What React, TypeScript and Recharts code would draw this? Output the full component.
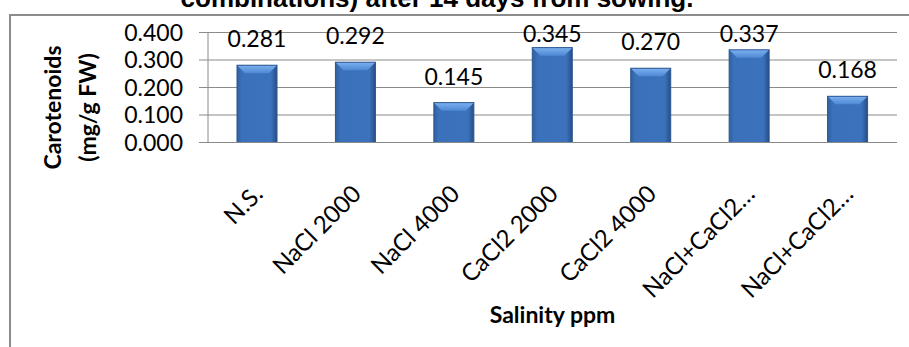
import { BarChart, Bar, XAxis, YAxis, CartesianGrid, LabelList, Label } from "recharts";

const categories = [
  "N.S.",
  "NaCl 2000",
  "NaCl 4000",
  "CaCl2 2000",
  "CaCl2 4000",
  "NaCl+CaCl2…",
  "NaCl+CaCl2…",
];
const carotenoids = [0.281, 0.292, 0.145, 0.345, 0.27, 0.337, 0.168];
const yTicks = [0, 0.1, 0.2, 0.3, 0.4];
const edgeTicks = [0, 1, 2, 3, 4, 5, 6, 7];

const title = "combinations) after 14 days from sowing.";
const yTitle = ["Carotenoids", "(mg/g FW)"];
const xTitle = "Salinity ppm";

const data = categories.map((name, i) => ({ name, value: carotenoids[i] }));

const FONT = "Lato, 'Open Sans', sans-serif";
const GRID = "#8a8a8a";

function BevelBar(props: any) {
  const { x, y, width, height } = props;
  if (!height || height <= 0) return null;
  const b = Math.min(8, height / 2);
  return (
    <g>
      <rect x={x} y={y} width={width} height={height} fill="url(#barBody)" />
      <polygon
        points={`${x},${y} ${x + width},${y} ${x + width - b},${y + b} ${x + b},${y + b}`}
        fill="url(#barTop)"
      />
      <rect x={x} y={y} width={width} height={height} fill="none" stroke="#2b5690" strokeWidth={1} />
    </g>
  );
}

// value label above each bar, kept inside the plot like Excel does
function ValueLabel(props: any) {
  const { x, y, width, value } = props;
  const by = Math.max(y - 18, 42);
  return (
    <text x={x + width / 2} y={by} textAnchor="middle" fontFamily={FONT} fontSize={23} fill="#000">
      {Number(value).toFixed(3)}
    </text>
  );
}

function CategoryTick(props: any) {
  const { x, y, payload } = props;
  const ax = x + 7;
  const ay = y + 45;
  return (
    <text
      x={ax}
      y={ay}
      transform={`rotate(-45 ${ax} ${ay})`}
      textAnchor="end"
      fontFamily={FONT}
      fontSize={24}
      fill="#000"
    >
      {payload.value}
    </text>
  );
}

function YTitle(props: any) {
  const vb = props.viewBox || { x: 0, y: 0, width: 0, height: 0 };
  const cy = vb.y + vb.height / 2 + 20;
  const x1 = vb.x + 52;
  const x2 = vb.x + 87;
  return (
    <g fontFamily={FONT} fontWeight="bold" fontSize={23} fill="#000">
      <text x={x1} y={cy} transform={`rotate(-90 ${x1} ${cy})`} textAnchor="middle" dominantBaseline="central">
        {yTitle[0]}
      </text>
      <text x={x2} y={cy} transform={`rotate(-90 ${x2} ${cy})`} textAnchor="middle" dominantBaseline="central">
        {yTitle[1]}
      </text>
    </g>
  );
}

function XTitle(props: any) {
  const vb = props.viewBox || { x: 0, y: 0, width: 0, height: 0 };
  return (
    <text
      x={vb.x + vb.width / 2}
      y={vb.y + 180}
      textAnchor="middle"
      fontFamily={FONT}
      fontWeight="bold"
      fontSize={23}
      fill="#000"
    >
      {xTitle}
    </text>
  );
}

export default function App() {
  return (
    <div style={{ position: "absolute", left: 0, top: 0, width: 909, height: 347, background: "#fff", overflow: "hidden" }}>
      <div
        style={{
          position: "absolute",
          left: 9,
          top: 14,
          width: 920,
          height: 360,
          borderLeft: "2px solid #8c8c8c",
          borderTop: "2px solid #8c8c8c",
        }}
      />
      <div
        style={{
          position: "absolute",
          left: 0,
          width: 874,
          top: -20,
          textAlign: "center",
          fontFamily: "'Liberation Sans', Arial, sans-serif",
          fontWeight: "bold",
          fontSize: 26,
          lineHeight: "36px",
          whiteSpace: "nowrap",
        }}
      >
        {title}
      </div>
      <div style={{ position: "absolute", left: 0, top: 0 }}>
        <BarChart width={909} height={347} data={data} margin={{ top: 32.5, right: 12, left: 0, bottom: 0 }}>
          <defs>
            <linearGradient id="barBody" x1="0" y1="0" x2="1" y2="0">
              <stop offset="0%" stopColor="#2f5f9f" />
              <stop offset="12%" stopColor="#3b71ba" />
              <stop offset="85%" stopColor="#3c72bb" />
              <stop offset="100%" stopColor="#264e87" />
            </linearGradient>
            <linearGradient id="barTop" x1="0" y1="0" x2="0" y2="1">
              <stop offset="0%" stopColor="#7cb0f0" />
              <stop offset="100%" stopColor="#4f89d4" />
            </linearGradient>
          </defs>
          <CartesianGrid vertical={false} stroke={GRID} strokeWidth={1} />
          <XAxis
            xAxisId="edges"
            type="number"
            domain={[0, 7]}
            ticks={edgeTicks}
            allowDataOverflow
            height={0}
            axisLine={false}
            tickLine={{ stroke: GRID }}
            tickSize={9}
            tick={() => <g />}
          />
          <XAxis
            dataKey="name"
            height={204.5}
            interval={0}
            tickLine={false}
            axisLine={{ stroke: GRID }}
            tick={<CategoryTick />}
          >
            <Label content={<XTitle />} />
          </XAxis>
          <YAxis
            width={208}
            domain={[0, 0.4]}
            ticks={yTicks}
            interval={0}
            tickFormatter={(v) => Number(v).toFixed(3)}
            tickSize={9}
            tickMargin={16}
            tickLine={{ stroke: GRID }}
            axisLine={{ stroke: GRID }}
            tick={{ fill: "#000", fontSize: 23, fontFamily: FONT }}
          >
            <Label content={<YTitle />} />
          </YAxis>
          <Bar dataKey="value" barSize={40} shape={<BevelBar />} isAnimationActive={false}>
            <LabelList dataKey="value" content={<ValueLabel />} />
          </Bar>
        </BarChart>
      </div>
    </div>
  );
}
